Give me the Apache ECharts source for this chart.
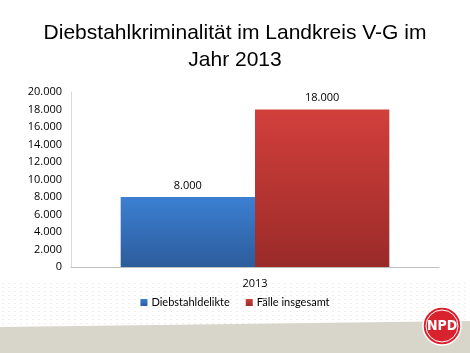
<!DOCTYPE html>
<html><head><meta charset="utf-8">
<script src="https://cdn.jsdelivr.net/npm/echarts@6/dist/echarts.min.js"></script>
<style>html,body{margin:0;padding:0;background:#fff}#c{width:470px;height:353px}</style>
</head><body><div id="c"></div>
<script>
const titleText = 'Diebstahlkriminalität im Landkreis V-G im\nJahr 2013';
const categories = ['2013'];
const seriesNames = ['Diebstahldelikte', 'Fälle insgesamt'];
const diebstahlValues = [8000];
const faelleValues = [18000];
const yTicks = [0, 2000, 4000, 6000, 8000, 10000, 12000, 14000, 16000, 18000, 20000];

function fmt(v){ return String(v).replace(/\B(?=(\d{3})+(?!\d))/g, '.'); }
function grad(top, bottom){
  return new echarts.graphic.LinearGradient(0,0,0,1,[{offset:0,color:top},{offset:1,color:bottom}]);
}
const chart = echarts.init(document.getElementById('c'), null, {renderer:'canvas'});
const font = 'Open Sans, Liberation Sans, sans-serif';
const dots = [];
for (let y = 283; y < 353; y += 4) {
  for (let x = 2; x < 470; x += 6) {
    dots.push({type:'rect', silent:true, z:-5, shape:{x:x,y:y,width:2,height:1}, style:{fill:'rgba(180,180,170,0.22)'}});
  }
}
chart.setOption({
  animation:false,
  backgroundColor:'#fff',
  title:{text:titleText, left:'center', top:15, textStyle:{fontFamily:'Liberation Sans, Arial, sans-serif', fontSize:21, fontWeight:'normal', color:'#000', lineHeight:27}},
  grid:{left:71, right:31, top:92, bottom:86},
  legend:{data:seriesNames, bottom:40, left:'center', itemWidth:7, itemHeight:7, itemGap:16, icon:'rect',
    textStyle:{fontFamily:'Lato, Open Sans, sans-serif', fontSize:11, color:'#000', padding:[0,0,0,-1]}},
  xAxis:{type:'category', data:categories, axisLine:{lineStyle:{color:'#bfbfbf'}}, axisTick:{show:false},
    axisLabel:{fontFamily:font, fontSize:11, color:'#000', margin:11}},
  yAxis:{type:'value', min:0, max:20000, interval:2000, axisLine:{show:true, lineStyle:{color:'#d9d9d9'}},
    splitLine:{show:false}, axisTick:{show:false},
    axisLabel:{fontFamily:font, fontSize:11, color:'#000', margin:9, formatter:v=>fmt(v)}},
  series:[
    {name:seriesNames[0], type:'bar', data:diebstahlValues, barGap:'0%', barCategoryGap:'27%',
      itemStyle:{color:grad('#3c7fd2','#2c5c9c')},
      label:{show:true, position:'top', distance:6, fontFamily:font, fontSize:11, color:'#000', formatter:p=>fmt(p.value)}},
    {name:seriesNames[1], type:'bar', data:faelleValues,
      itemStyle:{color:grad('#d23f3b','#9a2b29')},
      label:{show:true, position:'top', distance:6, fontFamily:font, fontSize:11, color:'#000', formatter:p=>fmt(p.value)}}
  ],
  graphic:[
    ...dots,
    {type:'polygon', silent:true, z:-4, shape:{points:[[0,327],[470,321],[470,353],[0,353]]}, style:{fill:'#d8d5ca'}},
    {type:'circle', silent:true, z:10, shape:{cx:442, cy:326, r:19}, style:{fill:'#d8232e', stroke:'#fff', lineWidth:1.5}},
    {type:'circle', silent:true, z:11, shape:{cx:442, cy:326, r:16}, style:{fill:'none', stroke:'#fff', lineWidth:1}},
    {type:'text', silent:true, z:12, x:442, y:326, style:{text:'NPD', fill:'#fff', font:'bold 14px "Liberation Sans Narrow", "DejaVu Sans Condensed", sans-serif', align:'center', verticalAlign:'middle'}}
  ]
});
</script></body></html>
